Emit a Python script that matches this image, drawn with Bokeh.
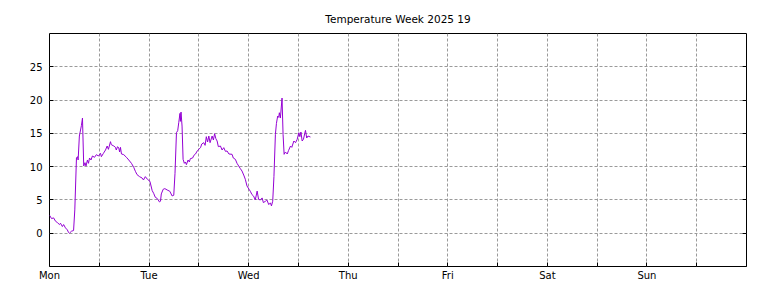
from bokeh.plotting import figure
from bokeh.models import Range1d, FixedTicker, LinearAxis, Grid, Title
from bokeh.embed import file_html
from bokeh.resources import INLINE

# hours since Monday 00:00
hours = [0.0, 0.5, 1.0, 1.45, 1.9, 2.4, 2.65, 3.1, 3.4, 3.85, 4.3, 4.6, 4.8, 5.3, 5.8,
         6.1, 6.5, 6.75, 6.9, 7.2, 7.7, 7.95, 8.25, 8.55, 8.8, 9.15, 9.4, 9.65, 10.0,
         10.35, 10.85, 11.3, 11.8, 12.3, 12.5, 13.0, 13.5, 13.9, 14.2, 14.7, 14.9, 15.5,
         15.9, 16.1, 16.4, 16.7, 16.9, 17.1, 17.35, 17.9, 18.55, 19.1, 19.75, 20.3, 20.7,
         21.1, 21.7, 22.3, 22.65, 23.1, 23.6, 24.2, 24.75, 25.1, 25.5, 26.0, 26.5, 26.75,
         26.95, 27.4, 27.8, 28.35, 29.0, 29.55, 29.95, 30.25, 30.6, 30.9, 31.15, 31.45,
         31.55, 31.7, 31.95, 32.2, 32.5, 32.75, 33.0, 33.4, 33.7, 33.95, 34.5, 34.8, 35.2,
         35.65, 36.4, 36.7, 37.2, 37.5, 37.8, 38.1, 38.4, 38.7, 39.2, 39.5, 39.8, 40.1,
         40.4, 40.7, 41.2, 41.6, 42.0, 42.4, 42.8, 43.25, 44.0, 44.3, 44.8, 45.2, 45.6,
         46.0, 46.4, 46.9, 47.2, 47.6, 48.1, 48.4, 48.8, 49.2, 49.6, 50.05, 50.4, 50.85,
         51.25, 51.55, 52.05, 52.4, 52.85, 53.25, 53.5, 53.8, 54.1, 54.45, 54.7, 55.0,
         55.25, 55.4, 55.65, 56.05, 56.3, 56.55, 56.85, 57.3, 57.6, 58.1, 58.4, 58.9,
         59.3, 59.7, 60.1, 60.35, 60.6, 60.9, 61.2, 61.7, 62.0, 62.3, 62.9]

temps = [2.7, 2.2, 2.3, 1.8, 1.6, 1.3, 1.5, 1.0, 1.3, 0.8, 0.5, 0.1, 0.0, 0.3, 0.4,
         3.5, 11.3, 11.5, 11.0, 14.6, 16.2, 17.3, 10.1, 10.6, 10.1, 11.0, 10.5, 11.3, 11.0,
         11.6, 11.4, 11.8, 11.6, 12.0, 11.5, 12.0, 12.5, 13.1, 12.6, 13.75, 13.3, 13.1,
         12.9, 12.5, 13.0, 12.8, 12.2, 12.9, 11.9, 11.8, 11.4, 11.0, 10.5, 9.9, 9.3,
         8.8, 8.5, 8.3, 8.0, 8.5, 8.1, 7.8, 6.4, 6.0, 5.4, 5.2, 4.7, 4.8,
         5.9, 6.6, 6.7, 6.5, 6.3, 5.6, 5.7, 9.0, 15.1, 15.4, 16.6, 18.0,
         16.8, 18.2, 16.1, 11.1, 10.5, 10.7, 10.3, 11.0, 10.7, 11.2, 11.3, 11.7, 11.9,
         12.4, 12.85, 13.4, 13.6, 13.2, 14.5, 13.7, 14.6, 13.6, 14.6, 14.0, 14.95, 14.2,
         13.85, 13.0, 13.1, 12.5, 12.85, 12.3, 12.35, 11.9, 11.85, 11.3, 11.1, 10.5, 10.1,
         9.7, 9.34, 8.6, 8.1, 7.1, 6.6, 6.3, 5.8, 5.57, 5.0, 6.33, 5.07, 5.0,
         5.3, 4.6, 4.8, 5.0, 4.3, 4.56, 4.1, 4.8, 8.5, 14.85, 16.5, 17.6,
         17.4, 18.1, 17.3, 20.3, 14.85, 11.85, 12.2, 11.9, 12.4, 13.1, 12.9, 13.85,
         13.6, 14.1, 15.1, 14.5, 15.2, 13.85, 14.1, 15.45, 14.3, 14.6, 14.45]

day_labels = ["Mon", "Tue", "Wed", "Thu", "Fri", "Sat", "Sun"]
y_ticks = [0, 5, 10, 15, 20, 25]
title_text = "Temperature Week 2025 19"

FONT = "DejaVu Sans"

p = figure(width=768, height=288, output_backend="svg", toolbar_location=None,
           x_range=Range1d(0, 168), y_range=Range1d(-5, 30),
           min_border_left=49, min_border_right=22, min_border_top=33,
           min_border_bottom=22, x_axis_type=None, y_axis_type=None)

p.outline_line_color = "black"
p.outline_line_width = 1
p.background_fill_color = "white"
p.border_fill_color = "white"

x_tick_pos = [i * 12 for i in range(15)]
overrides = {}
for i, t in enumerate(x_tick_pos):
    overrides[t] = day_labels[i // 2] if (i % 2 == 0 and i // 2 < len(day_labels)) else ""


def style_axis(ax, show_labels):
    ax.axis_line_color = None
    ax.major_tick_in = 4
    ax.major_tick_out = 0
    ax.minor_tick_in = 0
    ax.minor_tick_out = 0
    ax.major_tick_line_color = "black"
    ax.major_label_text_font = FONT
    ax.major_label_text_font_size = "10px" if show_labels else "0px"
    ax.major_label_text_color = "black" if show_labels else None


xb = LinearAxis(ticker=FixedTicker(ticks=x_tick_pos), major_label_overrides=overrides)
style_axis(xb, True)
xb.major_label_standoff = 3
p.add_layout(xb, "below")

yl = LinearAxis(ticker=FixedTicker(ticks=y_ticks))
style_axis(yl, True)
yl.major_label_standoff = 7
p.add_layout(yl, "left")

yr = LinearAxis(ticker=FixedTicker(ticks=y_ticks))
style_axis(yr, False)
yr.major_label_standoff = 0
p.add_layout(yr, "right")

for dim, ticks in ((0, x_tick_pos[1:-1]), (1, y_ticks)):
    g = Grid(dimension=dim, ticker=FixedTicker(ticks=ticks),
             grid_line_color="#9a9a9a", grid_line_dash="3 2", grid_line_width=1)
    p.add_layout(g, "center")

p.line(hours, temps, line_color="#9400d3", line_width=1)

title = Title(text=title_text, align="center", text_font=FONT,
              text_font_size="10.5px", text_font_style="normal",
              text_color="black", standoff=18)
p.add_layout(title, "above")

open("out.html", "w").write(file_html(p, INLINE))
